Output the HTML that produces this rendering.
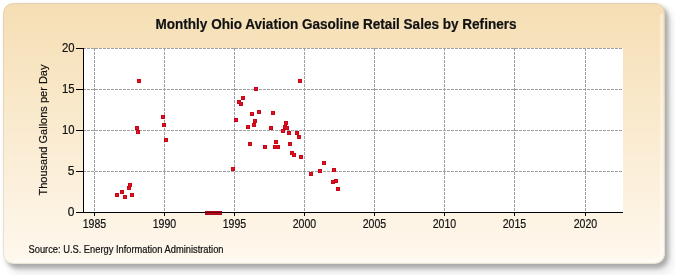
<!DOCTYPE html>
<html><head><meta charset="utf-8"><style>
html,body{margin:0;padding:0;background:#fff;width:675px;height:275px;overflow:hidden}
svg{display:block}
text{font-family:"Liberation Sans",sans-serif;fill:#111;stroke:#111;stroke-width:0.2px}
.t{opacity:0.999}
</style></head><body>
<svg width="675" height="275" viewBox="0 0 675 275" shape-rendering="crispEdges">
<defs>
<linearGradient id="bg" x1="0" y1="0" x2="0" y2="1">
<stop offset="0" stop-color="#f5deb3"/>
<stop offset="1" stop-color="#fff8ee"/>
</linearGradient>
<filter id="sh" x="-5%" y="-10%" width="110%" height="120%"><feGaussianBlur stdDeviation="2"/></filter>
<filter id="sh2" x="-5%" y="-10%" width="110%" height="120%"><feGaussianBlur stdDeviation="5"/></filter>
</defs>
<rect x="9" y="11" width="664" height="264" rx="12" fill="rgba(0,0,0,0.07)" filter="url(#sh2)" shape-rendering="auto"/>
<rect x="6" y="6" width="662.5" height="262.5" rx="12" fill="#aaa" filter="url(#sh)" shape-rendering="auto"/>
<rect x="3" y="3" width="662" height="261" rx="10.5" fill="url(#bg)" shape-rendering="auto"/>
<rect x="3.5" y="3.5" width="661" height="260" rx="10" fill="none" stroke="rgba(180,175,160,0.3)" stroke-width="1" shape-rendering="auto"/>
<path d="M661.5 14 V252 Q661.5 260.5 652 260.5 H14" fill="none" stroke="rgba(255,255,255,0.4)" stroke-width="3" shape-rendering="auto"/>
<rect x="84" y="48" width="539" height="164" fill="#fff"/>
<g stroke="#a0a0a0" stroke-width="1" stroke-dasharray="3 1" fill="none"><line x1="94.5" y1="48" x2="94.5" y2="212"/><line x1="164.5" y1="48" x2="164.5" y2="212"/><line x1="234.5" y1="48" x2="234.5" y2="212"/><line x1="304.5" y1="48" x2="304.5" y2="212"/><line x1="374.5" y1="48" x2="374.5" y2="212"/><line x1="444.5" y1="48" x2="444.5" y2="212"/><line x1="514.5" y1="48" x2="514.5" y2="212"/><line x1="585.5" y1="48" x2="585.5" y2="212"/></g>
<g stroke="#a0a0a0" stroke-width="1" stroke-dasharray="3 1" stroke-dashoffset="1" fill="none"><line x1="84" y1="48.5" x2="623" y2="48.5"/><line x1="84" y1="89.5" x2="623" y2="89.5"/><line x1="84" y1="130.5" x2="623" y2="130.5"/><line x1="84" y1="171.5" x2="623" y2="171.5"/></g>
<g stroke="#000" stroke-width="1">
<line x1="83.5" y1="48" x2="83.5" y2="213"/>
<line x1="83" y1="212.5" x2="623" y2="212.5"/>
<line x1="94.5" y1="212" x2="94.5" y2="216"/><line x1="164.5" y1="212" x2="164.5" y2="216"/><line x1="234.5" y1="212" x2="234.5" y2="216"/><line x1="304.5" y1="212" x2="304.5" y2="216"/><line x1="374.5" y1="212" x2="374.5" y2="216"/><line x1="444.5" y1="212" x2="444.5" y2="216"/><line x1="514.5" y1="212" x2="514.5" y2="216"/><line x1="585.5" y1="212" x2="585.5" y2="216"/><line x1="76" y1="48.5" x2="84" y2="48.5"/><line x1="76" y1="89.5" x2="84" y2="89.5"/><line x1="76" y1="130.5" x2="84" y2="130.5"/><line x1="76" y1="171.5" x2="84" y2="171.5"/><line x1="76" y1="212.5" x2="84" y2="212.5"/>
</g>
<g fill="#e0101f" stroke="#c80818" stroke-width="1"><rect x="115.5" y="193.5" width="3" height="3"/><rect x="120.5" y="190.5" width="3" height="3"/><rect x="123.5" y="195.5" width="3" height="3"/><rect x="127.5" y="186.5" width="3" height="3"/><rect x="128.5" y="183.5" width="3" height="3"/><rect x="130.5" y="193.5" width="3" height="3"/><rect x="137.5" y="79.5" width="3" height="3"/><rect x="135.5" y="126.5" width="3" height="3"/><rect x="136.5" y="130.5" width="3" height="3"/><rect x="161.5" y="115.5" width="3" height="3"/><rect x="162.5" y="123.5" width="3" height="3"/><rect x="164.5" y="138.5" width="3" height="3"/><rect x="231.5" y="167.5" width="3" height="3"/><rect x="234.5" y="118.5" width="3" height="3"/><rect x="237.5" y="100.5" width="3" height="3"/><rect x="239.5" y="102.5" width="3" height="3"/><rect x="241.5" y="96.5" width="3" height="3"/><rect x="246.5" y="125.5" width="3" height="3"/><rect x="248.5" y="142.5" width="3" height="3"/><rect x="250.5" y="112.5" width="3" height="3"/><rect x="252.5" y="123.5" width="3" height="3"/><rect x="253.5" y="119.5" width="3" height="3"/><rect x="254.5" y="87.5" width="3" height="3"/><rect x="257.5" y="110.5" width="3" height="3"/><rect x="263.5" y="145.5" width="3" height="3"/><rect x="269.5" y="126.5" width="3" height="3"/><rect x="271.5" y="111.5" width="3" height="3"/><rect x="274.5" y="140.5" width="3" height="3"/><rect x="273.5" y="145.5" width="3" height="3"/><rect x="276.5" y="145.5" width="3" height="3"/><rect x="281.5" y="129.5" width="3" height="3"/><rect x="283.5" y="125.5" width="3" height="3"/><rect x="285.5" y="126.5" width="3" height="3"/><rect x="284.5" y="121.5" width="3" height="3"/><rect x="287.5" y="131.5" width="3" height="3"/><rect x="288.5" y="142.5" width="3" height="3"/><rect x="290.5" y="151.5" width="3" height="3"/><rect x="292.5" y="153.5" width="3" height="3"/><rect x="295.5" y="131.5" width="3" height="3"/><rect x="297.5" y="135.5" width="3" height="3"/><rect x="298.5" y="79.5" width="3" height="3"/><rect x="299.5" y="155.5" width="3" height="3"/><rect x="309.5" y="172.5" width="3" height="3"/><rect x="318.5" y="169.5" width="3" height="3"/><rect x="322.5" y="161.5" width="3" height="3"/><rect x="332.5" y="168.5" width="3" height="3"/><rect x="331.5" y="180.5" width="3" height="3"/><rect x="334.5" y="179.5" width="3" height="3"/><rect x="336.5" y="187.5" width="3" height="3"/><rect x="205.5" y="211.5" width="16" height="3" fill="#c40c1c" stroke="#a80818"/></g>
<line x1="205" y1="212.5" x2="222" y2="212.5" stroke="rgba(0,0,0,0.5)" stroke-width="1"/>
<g class="t">
<g font-size="12"><text x="94.5" y="228" text-anchor="middle" textLength="23.5" lengthAdjust="spacingAndGlyphs">1985</text><text x="164.5" y="228" text-anchor="middle" textLength="23.5" lengthAdjust="spacingAndGlyphs">1990</text><text x="234.5" y="228" text-anchor="middle" textLength="23.5" lengthAdjust="spacingAndGlyphs">1995</text><text x="304.5" y="228" text-anchor="middle" textLength="23.5" lengthAdjust="spacingAndGlyphs">2000</text><text x="374.5" y="228" text-anchor="middle" textLength="23.5" lengthAdjust="spacingAndGlyphs">2005</text><text x="444.5" y="228" text-anchor="middle" textLength="23.5" lengthAdjust="spacingAndGlyphs">2010</text><text x="514.5" y="228" text-anchor="middle" textLength="23.5" lengthAdjust="spacingAndGlyphs">2015</text><text x="585.5" y="228" text-anchor="middle" textLength="23.5" lengthAdjust="spacingAndGlyphs">2020</text><text x="74.5" y="51.8" text-anchor="end" textLength="12.6" lengthAdjust="spacingAndGlyphs">20</text><text x="74.5" y="92.8" text-anchor="end" textLength="12.6" lengthAdjust="spacingAndGlyphs">15</text><text x="74.5" y="133.8" text-anchor="end" textLength="12.6" lengthAdjust="spacingAndGlyphs">10</text><text x="74.5" y="174.8" text-anchor="end">5</text><text x="74.5" y="215.8" text-anchor="end">0</text></g>
<text x="155.5" y="29" font-size="14" font-weight="bold" textLength="361" lengthAdjust="spacingAndGlyphs">Monthly Ohio Aviation Gasoline Retail Sales by Refiners</text>
<text x="28.5" y="252.5" font-size="10" textLength="195" lengthAdjust="spacingAndGlyphs">Source: U.S. Energy Information Administration</text>
<text transform="translate(47,195.5) rotate(-90)" font-size="11.5" textLength="131" lengthAdjust="spacingAndGlyphs">Thousand Gallons per Day</text>
</g>
</svg>
</body></html>
